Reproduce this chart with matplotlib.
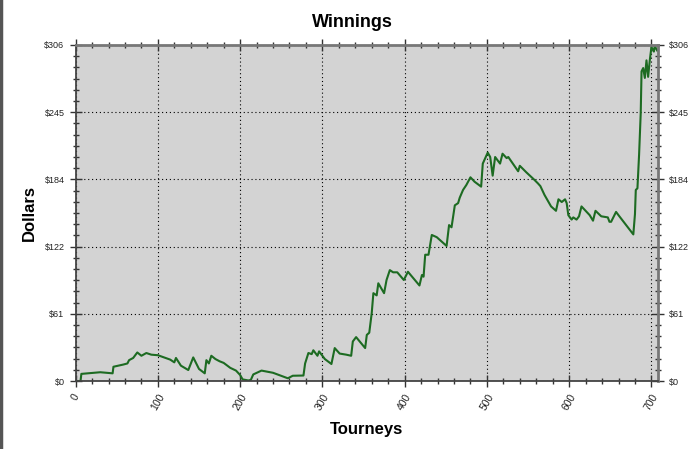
import matplotlib.pyplot as plt
from matplotlib.ticker import MultipleLocator, FixedLocator
from matplotlib.lines import Line2D

# tourney number vs running winnings
tourneys = [0, 6, 7, 30, 45, 46, 58, 63, 65, 70, 75, 80, 86, 92, 100, 115, 120, 122,
            128, 137, 143, 150, 157, 159, 162, 165, 170, 175, 180, 188, 195, 200, 203,
            210, 213, 216, 226, 240, 258, 264, 277, 279, 283, 287, 289, 294, 296, 303,
            311, 315, 321, 329, 335, 337, 341, 352, 354, 357, 360, 362, 366, 368, 375,
            378, 382, 386, 391, 399, 404, 418, 421, 423, 425, 429, 433, 439, 451, 454,
            457, 461, 465, 467, 471, 475, 480, 485, 493, 495, 498, 501, 504, 507, 510,
            516, 519, 524, 526, 538, 540, 548, 558, 562, 565, 570, 578, 584, 587, 591,
            595, 597, 599, 603, 605, 609, 612, 615, 625, 629, 632, 639, 647, 649, 651,
            657, 660, 674, 678, 680, 681, 683, 685, 687, 688, 690, 692, 694, 696, 698,
            700, 703, 704, 707]
dollars = [0, 0, 6.5, 8, 7, 13, 15, 16, 19, 21, 26, 23, 25.5, 24, 23.5, 19.5, 17, 21,
           14, 10, 21.5, 11, 7, 19, 16, 23, 20, 18, 16.5, 12, 9.5, 5.5, 1.5,
           0.5, 1, 6, 9.5, 7.5, 2.5, 4.8, 5, 16, 25.5, 24.5, 28, 23, 27, 20,
           15.5, 30, 25, 24, 23, 36, 40, 30, 42, 44, 62, 80, 78, 89, 80,
           92, 101, 99, 99, 92, 99.5, 87, 96.5, 95, 115, 115, 133, 131, 123, 142,
           140, 160, 162, 167, 174, 178.5, 185.5, 181.5, 177, 198, 203, 208, 204, 187, 204,
           198, 207, 203, 204, 191, 196, 190, 183, 180, 177.5, 169.5, 159, 155, 165.5, 163,
           165.5, 162, 151, 147, 149, 147, 150, 159, 151, 146, 155, 150, 149, 145, 145,
           154, 151, 137.5, 133.5, 152, 174, 175.5, 206, 244, 282, 285, 276, 292, 277, 292,
           304, 300, 305, 301]

y_ticks = [0, 61.2, 122.4, 183.6, 244.8, 306]
y_labels = ['$0', '$61', '$122', '$184', '$245', '$306']
x_ticks = [0, 100, 200, 300, 400, 500, 600, 700]

plt.rcParams['font.family'] = ['Liberation Sans', 'DejaVu Sans']

fig = plt.figure(figsize=(7, 4.49), dpi=100)
ax = fig.add_axes([0.108, 0.1514, 0.832, 0.7484])
ax.set_facecolor('#d3d3d3')

ax.plot(tourneys, dollars, color='#1d6b22', linewidth=1.5)

ax.set_xlim(0, 708)
ax.set_ylim(0, 306)

ax.xaxis.set_major_locator(FixedLocator(x_ticks))
ax.xaxis.set_minor_locator(MultipleLocator(20))
ax.set_yticks(y_ticks)
ax.set_yticklabels(y_labels)
ax.yaxis.set_minor_locator(MultipleLocator(10.2))

ax.grid(True, which='major', color='black', linestyle=(0, (1, 2.5)), linewidth=0.8)

ax.tick_params(axis='both', which='major', direction='inout', length=9, width=1,
               color='#333333', labelsize=6.5, labelcolor='#222222')
ax.tick_params(axis='both', which='minor', direction='inout', length=5, width=1,
               color='#333333')
ax.tick_params(axis='x', which='major', labelsize=7.5)
ax.tick_params(axis='y', which='both', right=True, labelright=True)
ax.tick_params(axis='x', which='both', top=True)
for lab in ax.get_xticklabels():
    lab.set_rotation(60)
    lab.set_ha('center')

for side in ['left', 'bottom']:
    ax.spines[side].set_color('#444444')
    ax.spines[side].set_linewidth(1.3)
for side in ['top', 'right']:
    ax.spines[side].set_color('#777777')
    ax.spines[side].set_linewidth(2)

ax.set_title('Winnings', fontsize=13, fontweight='bold', pad=13, x=0.4745)
ax.set_xlabel('Tourneys', fontsize=12, fontweight='bold')
ax.set_ylabel('Dollars', fontsize=12, fontweight='bold')
ax.xaxis.set_label_coords(0.5, -0.122)
ax.yaxis.set_label_coords(-0.066, 0.5)

# window border on the left edge
fig.add_artist(Line2D([0.002, 0.002], [0, 1], transform=fig.transFigure,
                      color='#555555', linewidth=2.5))

plt.savefig('out.png', dpi=100)
